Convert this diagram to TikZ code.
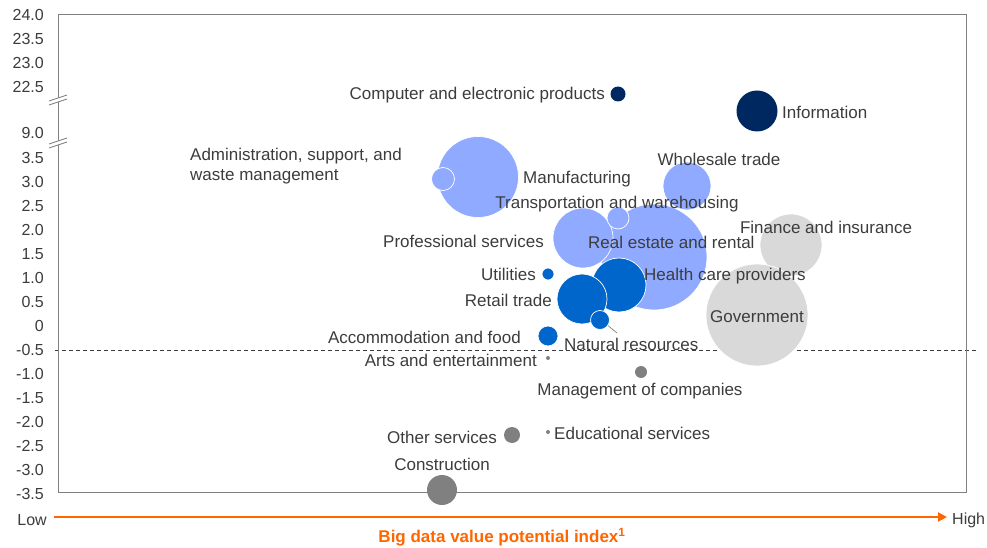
\documentclass[tikz,border=0pt]{standalone}
\usepackage{fontspec}
\setmainfont{Liberation Sans}
\usetikzlibrary{arrows.meta}
\definecolor{lightblue}{RGB}{143,170,255}
\definecolor{midblue}{RGB}{0,102,204}
\definecolor{navy}{RGB}{0,40,96}
\definecolor{midgrey}{RGB}{128,128,128}
\definecolor{lightgrey}{RGB}{217,217,217}
\definecolor{labelgrey}{RGB}{60,60,60}
\definecolor{axisorange}{RGB}{255,102,0}
\tikzset{
  bubble/.style={circle, inner sep=0pt, minimum size=#1, draw=white, line width=0.7pt},
  lbl/.style={text=labelgrey, font=\fontsize{17}{20}\selectfont, inner sep=0pt},
  tick/.style={text=labelgrey, font=\fontsize{16}{19}\selectfont, inner sep=0pt, anchor=east},
  axisline/.style={midgrey, line width=1pt}
}
\begin{document}
\begin{tikzpicture}[x=1pt, y=-1pt]
  \useasboundingbox (0,0) rectangle (987,548);
  % threshold line
  \draw[labelgrey, line width=1pt, dash pattern=on 4pt off 3pt] (55,350) -- (976,350);
  % frame
  \draw[axisline] (58,15) rectangle (966,492);
  % axis breaks
  \foreach \yb in {100,143} {
    \fill[white] (49,\yb+5) -- (49,\yb+1) -- (67,\yb-5) -- (67,\yb-1) -- cycle;
    \draw[midgrey, line width=0.9pt] (49,\yb+1) -- (67,\yb-5);
    \draw[midgrey, line width=0.9pt] (49,\yb+5) -- (67,\yb-1);
  }
  % y ticks, upper part
  \foreach \v/\yy in {24.0/15, 23.5/39, 23.0/63, 22.5/87, 9.0/133}
    \node[tick] at (44,\yy) {\v};
  % y ticks, lower part
  \foreach \v/\yy in {3.5/158, 3.0/182, 2.5/206, 2.0/230, 1.5/254, 1.0/278, 0.5/302, 0/326,
                      -0.5/350, -1.0/374, -1.5/398, -2.0/422, -2.5/446, -3.0/470, -3.5/494}
    \node[tick] at (44,\yy) {\v};
  % bubbles
  \node[bubble=62pt, fill=lightgrey] (fin) at (791,245) {};
  \node[bubble=102pt, fill=lightgrey] (gov) at (757,315) {};
  \node[bubble=106pt, fill=lightblue] (real) at (654,257) {};
  \node[bubble=81pt, fill=lightblue] (manu) at (478,177) {};
  \node[bubble=23pt, fill=lightblue] (admin) at (443,179) {};
  \node[bubble=48pt, fill=lightblue] (whole) at (687,186) {};
  \node[bubble=60pt, fill=lightblue] (prof) at (583,238) {};
  \node[bubble=22pt, fill=lightblue] (trans) at (618,218) {};
  \node[bubble=54pt, fill=midblue] (health) at (619,285) {};
  \node[bubble=50pt, fill=midblue] (retail) at (582,299) {};
  \node[bubble=19pt, fill=midblue] (nat) at (600,320) {};
  \node[bubble=12pt, fill=midblue] (util) at (548,274) {};
  \node[bubble=20pt, fill=midblue] (accom) at (548,336) {};
  \node[bubble=15pt, fill=navy, draw=none] (comp) at (618,94) {};
  \node[bubble=41pt, fill=navy, draw=none] (info) at (757,111) {};
  \node[bubble=4pt, fill=midgrey, draw=none] (arts) at (548,358) {};
  \node[bubble=12pt, fill=midgrey, draw=none] (mgmt) at (641,372) {};
  \node[bubble=16pt, fill=midgrey, draw=none] (other) at (512,435) {};
  \node[bubble=4pt, fill=midgrey, draw=none] (edu) at (548,432) {};
  \node[bubble=30pt, fill=midgrey, draw=none] (constr) at (442,490) {};
  % leader for natural resources
  \coordinate (natend) at (617,333);
  \draw[midgrey, line width=0.7pt] (nat.-35) -- (natend);
  % labels
  \node[lbl, anchor=east] (complbl) at (605,95) {Computer and electronic products};
  \node[lbl, anchor=west] (infolbl) at (782,112) {Information};
  \node[lbl, anchor=west, align=left] (adminlbl) at (190,166) {Administration, support, and\\waste management};
  \node[lbl] (manulbl) at (577,179) {Manufacturing};
  \node[lbl] (wholelbl) at (719,159) {Wholesale trade};
  \node[lbl] (translbl) at (617,204) {Transportation and warehousing};
  \node[lbl] (finlbl) at (826,227) {Finance and insurance};
  \node[lbl, anchor=east] (proflbl) at (544,241) {Professional services};
  \node[lbl, anchor=west] (reallbl) at (588,242) {Real estate and rental};
  \node[lbl, anchor=east] (utillbl) at (536,274) {Utilities};
  \node[lbl, anchor=west] (healthlbl) at (644,276) {Health care providers};
  \node[lbl, anchor=east] (retaillbl) at (552,300) {Retail trade};
  \node[lbl] (govlbl) at (757,317) {Government};
  \node[lbl, anchor=east] (accomlbl) at (521,337) {Accommodation and food};
  \node[lbl, anchor=west] (natlbl) at (564,344) {Natural resources};
  \node[lbl, anchor=east] (artslbl) at (537,360) {Arts and entertainment};
  \node[lbl] (mgmtlbl) at (640,391) {Management of companies};
  \node[lbl, anchor=west] (edulbl) at (554,433) {Educational services};
  \node[lbl, anchor=east] (otherlbl) at (497,437) {Other services};
  \node[lbl] (constrlbl) at (442,464) {Construction};
  % x axis
  \node[lbl, anchor=east, font=\fontsize{16}{19}\selectfont] (low) at (47,520) {Low};
  \node[lbl, anchor=west, font=\fontsize{16}{19}\selectfont] (high) at (952,520) {High};
  \draw[axisorange, line width=2pt, -{Triangle[length=9pt, width=9pt]}]
    ([xshift=7pt]low.east |- 0,517) -- ([xshift=-5pt]high.west |- 0,517);
  \node[text=axisorange, font=\bfseries\fontsize{17}{20}\selectfont, inner sep=0pt] (xlbl) at (502,537)
    {Big data value potential index\textsuperscript{1}};
\end{tikzpicture}
\end{document}
